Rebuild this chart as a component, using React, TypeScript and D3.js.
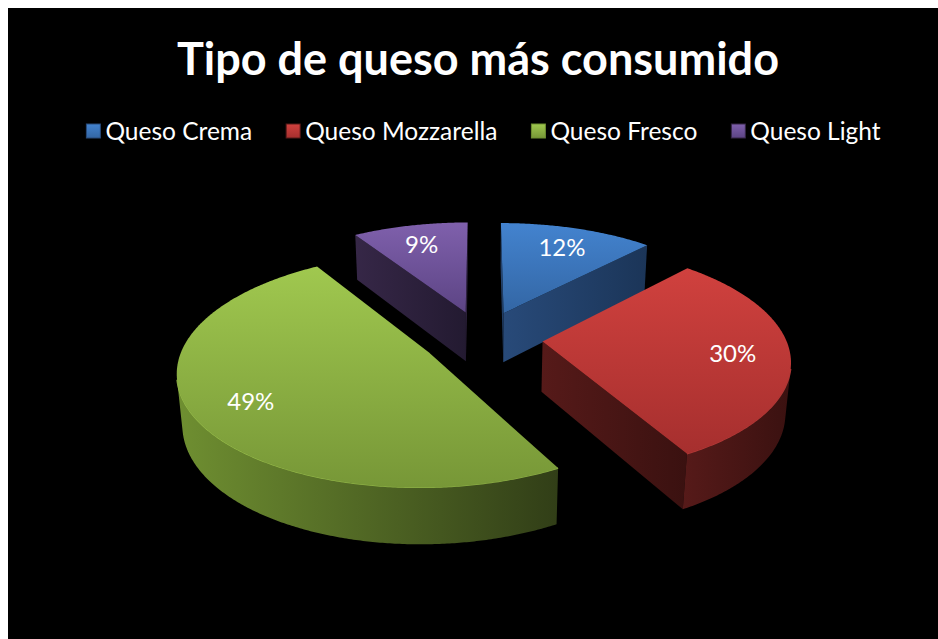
import React, { useEffect, useRef } from "react";
import * as d3 from "d3";

const title = "Tipo de queso más consumido";
const categories = ["Queso Crema", "Queso Mozzarella", "Queso Fresco", "Queso Light"];
const values = [12, 30, 49, 9];
const labels = ["12%", "30%", "49%", "9%"];
const topLight = ["#4383cf", "#d0413e", "#a0c84f", "#7f60ac"];
const topDark = ["#3366a4", "#a62f2e", "#779737", "#5c4484"];
const wallLight = ["#284a79", "#561a19", "#6f8f31", "#362747"];
const wallDark = ["#1b3558", "#3a1110", "#313e17", "#231a31"];

const W = 930;
const H = 631;

export default function App() {
  const ref = useRef<SVGSVGElement>(null);

  useEffect(() => {
    const svg = d3.select(ref.current);
    svg.selectAll("*").remove();

    svg.append("rect").attr("width", W).attr("height", H).attr("fill", "#000");
    const defs = svg.append("defs");

    // 3d view settings
    const alpha = (27 * Math.PI) / 180;
    const ca = Math.cos(alpha);
    const sa = Math.sin(alpha);
    const S = 243;
    const D = 6;
    const explode = 0.25;
    const depth = 0.236;
    const ox = 474;
    const oy = 330;
    const cam = [0, D * sa, -D * ca];

    const proj = (X: number, Y: number, Z: number): [number, number] => {
      const yv = Y * ca + Z * sa;
      const zv = Z * ca - Y * sa;
      const k = 1 / (1 + zv / D);
      return [ox + S * X * k, oy - S * yv * k];
    };
    const facing = (n: number[], p: number[]) =>
      n[0] * (cam[0] - p[0]) + n[1] * (cam[1] - p[1]) + n[2] * (cam[2] - p[2]) > 0;

    const arcs = d3.pie<number>().sort(null).value((d) => d)(values);
    const slices = arcs.map((a, i) => {
      const mid = (a.startAngle + a.endAngle) / 2;
      const dx = explode * Math.sin(mid);
      const dz = explode * Math.cos(mid);
      return { i, a0: a.startAngle, a1: a.endAngle, mid, dx, dz, zc: (dz + 0.5 * Math.cos(mid)) * ca };
    });

    const line = d3.line();

    slices.forEach((s) => {
      const gt = defs.append("linearGradient").attr("id", `top${s.i}`).attr("x1", 0).attr("y1", 0).attr("x2", 0).attr("y2", 1);
      gt.append("stop").attr("offset", 0).attr("stop-color", topLight[s.i]);
      gt.append("stop").attr("offset", 1).attr("stop-color", topDark[s.i]);
      const gw = defs.append("linearGradient").attr("id", `wall${s.i}`).attr("x1", 0).attr("y1", 0).attr("x2", 1).attr("y2", 0);
      gw.append("stop").attr("offset", 0).attr("stop-color", wallLight[s.i]);
      gw.append("stop").attr("offset", 1).attr("stop-color", wallDark[s.i]);
    });

    const order = [...slices].sort((a, b) => b.zc - a.zc);

    order.forEach((s) => {
      const g = svg.append("g");
      const pt = (th: number, r: number, Y: number) => [s.dx + r * Math.sin(th), Y, s.dz + r * Math.cos(th)];
      const P = (p: number[]) => proj(p[0], p[1], p[2]);

      // radial side walls
      const sides = [
        { th: s.a0, n: [-Math.cos(s.a0), 0, Math.sin(s.a0)] },
        { th: s.a1, n: [Math.cos(s.a1), 0, -Math.sin(s.a1)] },
      ];
      sides.forEach((sd) => {
        const c = pt(0, 0, 0);
        if (!facing(sd.n, c)) return;
        const poly = [P(pt(0, 0, 0)), P(pt(sd.th, 1, 0)), P(pt(sd.th, 1, -depth)), P(pt(0, 0, -depth))];
        g.append("path").attr("d", line(poly) + "Z").attr("fill", `url(#wall${s.i})`);
      });

      // outer curved wall, visible runs only
      const n = Math.ceil((s.a1 - s.a0) / (Math.PI / 360));
      const step = (s.a1 - s.a0) / n;
      let run: number[] = [];
      const runs: number[][] = [];
      for (let j = 0; j < n; j++) {
        const tm = s.a0 + (j + 0.5) * step;
        const vis = facing([Math.sin(tm), 0, Math.cos(tm)], pt(tm, 1, 0));
        if (vis) {
          if (run.length === 0) run.push(s.a0 + j * step);
          run[1] = s.a0 + (j + 1) * step;
        } else if (run.length) {
          runs.push(run);
          run = [];
        }
      }
      if (run.length) runs.push(run);
      runs.forEach(([t0, t1]) => {
        const m = Math.max(2, Math.ceil((t1 - t0) / (Math.PI / 360)));
        const ths = d3.range(m + 1).map((k) => t0 + ((t1 - t0) * k) / m);
        const poly = [...ths.map((t) => P(pt(t, 1, 0))), ...ths.slice().reverse().map((t) => P(pt(t, 1, -depth)))];
        g.append("path").attr("d", line(poly) + "Z").attr("fill", `url(#wall${s.i})`);
        g.append("path")
          .attr("d", line(ths.map((t) => P(pt(t, 1, 0)))))
          .attr("fill", "none")
          .attr("stroke", topLight[s.i])
          .attr("stroke-opacity", 0.8)
          .attr("stroke-width", 1.5);
      });

      // top face
      const m = Math.ceil((s.a1 - s.a0) / (Math.PI / 360));
      const arcPts = d3.range(m + 1).map((k) => P(pt(s.a0 + ((s.a1 - s.a0) * k) / m, 1, 0)));
      g.append("path").attr("d", line([P(pt(0, 0, 0)), ...arcPts]) + "Z").attr("fill", `url(#top${s.i})`);
    });

    // data labels
    slices.forEach((s) => {
      const r = 0.77;
      const [x, y] = proj(s.dx + r * Math.sin(s.mid), 0, s.dz + r * Math.cos(s.mid));
      svg.append("text")
        .attr("x", x)
        .attr("y", y)
        .attr("text-anchor", "middle")
        .attr("dominant-baseline", "central")
        .attr("font-family", "Lato, sans-serif")
        .attr("font-size", 24)
        .attr("fill", "#fff")
        .text(labels[s.i]);
    });

    // title
    svg.append("text")
      .attr("x", 470)
      .attr("y", 67)
      .attr("text-anchor", "middle")
      .attr("font-family", "Lato, sans-serif")
      .attr("font-weight", "bold")
      .attr("font-size", 45)
      .attr("fill", "#fff")
      .text(title);

    // legend
    const lg = svg.append("g");
    const items = categories.map((c, i) => {
      const t = lg.append("text")
        .attr("y", 132)
        .attr("font-family", "Lato, sans-serif")
        .attr("font-size", 24.5)
        .attr("fill", "#fff")
        .text(c);
      return { i, t, w: (t.node() as SVGTextElement).getComputedTextLength() };
    });
    const box = 14, gap = 5, spacing = 34;
    const total = d3.sum(items, (d) => box + gap + d.w) + spacing * (items.length - 1);
    let x = 475.5 - total / 2;
    items.forEach((d) => {
      lg.append("rect")
        .attr("x", x)
        .attr("y", 116)
        .attr("width", box)
        .attr("height", box)
        .attr("fill", `url(#top${d.i})`)
        .attr("stroke", wallLight[d.i])
        .attr("stroke-width", 1);
      d.t.attr("x", x + box + gap);
      x += box + gap + d.w + spacing;
    });
  }, []);

  return (
    <div style={{ position: "fixed", left: 8, top: 8 }}>
      <svg ref={ref} width={W} height={H} style={{ display: "block" }} />
    </div>
  );
}
